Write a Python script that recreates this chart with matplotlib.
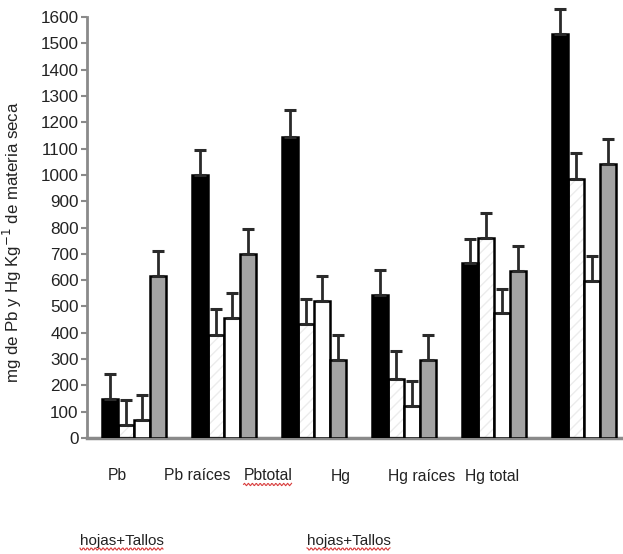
import matplotlib
matplotlib.use("Agg")
import matplotlib.pyplot as plt
import numpy as np
from matplotlib.lines import Line2D
from matplotlib.transforms import IdentityTransform

plt.rcParams['font.family'] = ['Liberation Sans', 'DejaVu Sans']

# data (mg/kg)
categories = ['Pb', 'Pb raíces', 'Pbtotal', 'Hg', 'Hg raíces', 'Hg total']
s_black = [150, 1000, 1145, 545, 665, 1535]
s_hatch = [50, 390, 435, 225, 760, 985]
s_white = [70, 455, 520, 120, 475, 595]
s_gray = [615, 700, 295, 295, 635, 1040]
e_black = [95, 95, 100, 95, 90, 95]
e_hatch = [95, 100, 95, 105, 95, 100]
e_white = [95, 95, 95, 95, 90, 95]
e_gray = [95, 95, 95, 95, 95, 95]
yticks = list(range(0, 1700, 100))

W, H = 623, 554
fig = plt.figure(figsize=(W / 100, H / 100), dpi=100)
ax = fig.add_axes([87 / W, 1 - 438 / H, (623 - 87) / W, (438 - 17) / H])

x = np.arange(len(categories))
w = 0.178
series = [(s_black, e_black, 'black', False),
          (s_hatch, e_hatch, 'white', True),
          (s_white, e_white, 'white', False),
          (s_gray, e_gray, '#a3a3a3', False)]

for j, (vals, errs, col, hatched) in enumerate(series):
    pos = x + (j - 1.5) * w
    if hatched:
        ax.bar(pos, vals, w, color='white', edgecolor='#ececec', hatch='///',
               linewidth=0, zorder=2)
        ax.bar(pos, vals, w, fill=False, edgecolor='black', linewidth=1.8, zorder=3)
    else:
        ax.bar(pos, vals, w, color=col, edgecolor='black', linewidth=1.8, zorder=3)
    eb = ax.errorbar(pos, vals, yerr=[np.zeros(len(vals)), errs], fmt='none',
                     ecolor='#2a2a2a', elinewidth=2, capsize=4, capthick=2.2, zorder=4)
    for art in eb.lines[1] + eb.lines[2]:
        art.set_clip_on(False)

ax.set_xlim(-0.522, 5.433)
ax.set_ylim(0, 1600)
ax.set_yticks(yticks)
ax.set_xticks([])
for s in ['top', 'right']:
    ax.spines[s].set_visible(False)
ax.spines['left'].set_color('#8a8a8a')
ax.spines['left'].set_linewidth(2)
ax.spines['bottom'].set_color('#8a8a8a')
ax.spines['bottom'].set_linewidth(2.5)
ax.tick_params(axis='y', colors='#8a8a8a', width=1.5, length=4, pad=2,
               labelcolor='#222222', labelsize=12.3)

ax.set_ylabel('mg de Pb y Hg Kg$^{-1}$ de materia seca', fontsize=12.2,
              color='#222222')
ax.yaxis.set_label_coords((24 - 87) / 536, 0.466)

# category labels (offset from the bar groups as in the original)
label_px = [117, 197, 268, 341, 422, 492]
texts = []
for name, px in zip(categories, label_px):
    t = fig.text(px / W, 1 - 476 / H, name, ha='center', va='center',
                 fontsize=11.3, color='#222222')
    texts.append(t)

sub1 = fig.text(80 / W, 1 - 541 / H, 'hojas+Tallos', ha='left', va='center',
                fontsize=11, color='#222222')
sub2 = fig.text(307 / W, 1 - 541 / H, 'hojas+Tallos', ha='left', va='center',
                fontsize=11, color='#222222')

# red wavy spell-check underline
fig.canvas.draw()
renderer = fig.canvas.get_renderer()
for t in [texts[2], sub1, sub2]:
    bb = t.get_window_extent(renderer)
    xs = np.arange(bb.x0, bb.x1, 1.0)
    ys = bb.y0 - 1 + 1.2 * np.sin(xs * 1.6)
    fig.add_artist(Line2D(xs, ys, transform=IdentityTransform(),
                          color='#d83a3a', linewidth=0.8))

fig.savefig('out.png', dpi=100)
